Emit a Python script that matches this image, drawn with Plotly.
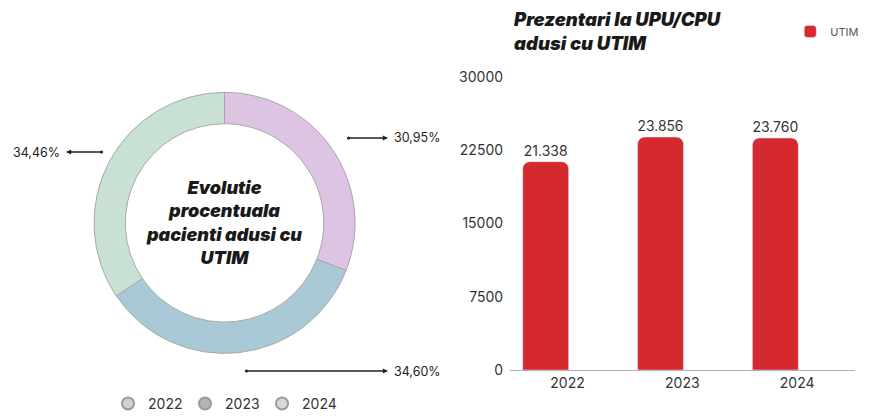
import plotly.graph_objects as go

# ---- data ----
years = ["2022", "2023", "2024"]
pie_share = [30.95, 34.60, 34.46]
pie_labels_txt = ["30,95%", "34,60%", "34,46%"]
pie_colors = ["#dec4e3", "#a8c9d5", "#c9e0d5"]
legend_marker_colors = ["#cfcfcf", "#b0b4b4", "#d8d8d8"]

bar_years = ["2022", "2023", "2024"]
bar_values = [21338, 23856, 23760]
y_ticks = [0, 7500, 15000, 22500, 30000]
y_tick_text = ["0", "7500", "15000", "22500", "30000"]

FONT = "Inter"
fig = go.Figure()

fig.add_trace(go.Pie(
    values=pie_share, labels=years, sort=False, direction="clockwise", rotation=0,
    hole=0.76, textinfo="none", showlegend=False, hoverinfo="skip",
    marker=dict(colors=pie_colors, line=dict(color="#a8a8a8", width=1)),
    domain=dict(x=[0.1067, 0.403], y=[0.136, 0.80]),
))

# legend entries for the donut (grey circles)
for yr, c in zip(years, legend_marker_colors):
    fig.add_trace(go.Scatter(
        x=[None], y=[None], mode="markers", name=yr, legend="legend",
        marker=dict(symbol="circle", size=13, color=c, line=dict(color="#9a9a9a", width=1)),
        xaxis="x2", yaxis="y2",
    ))

fig.add_trace(go.Bar(
    x=bar_years, y=bar_values, name="UTIM", legend="legend2",
    marker=dict(color="#d42a2f"), width=0.4, offset=-0.39,
    texttemplate="%{y:,}", textposition="outside", cliponaxis=False,
    textfont=dict(family=FONT, size=14, color="#333333"),
))

fig.update_layout(
    width=881, height=419, margin=dict(l=0, r=0, t=0, b=0, autoexpand=False),
    paper_bgcolor="white", plot_bgcolor="white",
    separators=",.", barcornerradius=7,
    font=dict(family=FONT, size=13, color="#333333"),
    xaxis=dict(domain=[0.579, 0.970], showgrid=False, showline=True, linecolor="#b0b0b0",
               ticks="", tickfont=dict(size=14, color="#333333")),
    yaxis=dict(domain=[0.117, 0.816], range=[0, 30000], tickvals=y_ticks, ticktext=y_tick_text,
               showgrid=False, zeroline=False, showline=False, ticks="", ticklabelstandoff=6,
               tickfont=dict(size=14, color="#333333")),
    xaxis2=dict(domain=[0, 0.01], visible=False),
    yaxis2=dict(domain=[0, 0.01], visible=False),
    legend=dict(orientation="h", x=0.1226, y=0.036, xanchor="left", yanchor="middle",
                font=dict(size=14, color="#333333"), entrywidth=32, entrywidthmode="pixels",
                bgcolor="rgba(0,0,0,0)", itemsizing="constant"),
    legend2=dict(x=0.897, y=0.925, xanchor="left", yanchor="middle",
                 font=dict(size=11, color="#555555"), bgcolor="rgba(0,0,0,0)"),
)

ann = []
ann.append(dict(text="<i>Prezentari la UPU/CPU<br>adusi cu UTIM</i>", xref="paper", yref="paper",
                x=0.580, y=0.985, xanchor="left", yanchor="top", align="left", showarrow=False,
                font=dict(family=FONT, size=18.5, color="#1a1a1a", weight=900)))
ann.append(dict(text="<i>Evolutie<br>procentuala<br>pacienti adusi cu<br>UTIM</i>",
                xref="paper", yref="paper", x=0.2548, y=0.468, xanchor="center", yanchor="middle",
                showarrow=False, align="center",
                font=dict(family=FONT, size=18, color="#1a1a1a", weight=900)))


def px(x):
    return x / 881


def py(y):
    return 1 - y / 419


labels_pos = [
    (pie_labels_txt[0], 392, 138, 347, 138, 388),
    (pie_labels_txt[1], 392, 371, 245, 371, 388),
    (pie_labels_txt[2], 62, 152, 103, 152, 66),
]
for txt, tx, ty, tailx, taily, headx in labels_pos:
    ann.append(dict(text=txt, xref="paper", yref="paper", x=px(tx), y=py(ty),
                    xanchor="left" if tx > tailx else "right", yanchor="middle", showarrow=False,
                    font=dict(size=12.5, color="#222222")))
    ann.append(dict(text="", xref="paper", yref="paper", x=px(headx), y=py(taily),
                    axref="pixel", ayref="pixel", ax=tailx - headx, ay=0,
                    showarrow=True, arrowhead=2, arrowsize=0.8, arrowwidth=1.3,
                    arrowside="end+start", startarrowhead=6, startarrowsize=0.6,
                    arrowcolor="#222222", standoff=0, startstandoff=0))
fig.update_layout(annotations=ann)

fig.write_html("out.html", config={"displayModeBar": False},
               post_script="document.body.style.margin='0';")
